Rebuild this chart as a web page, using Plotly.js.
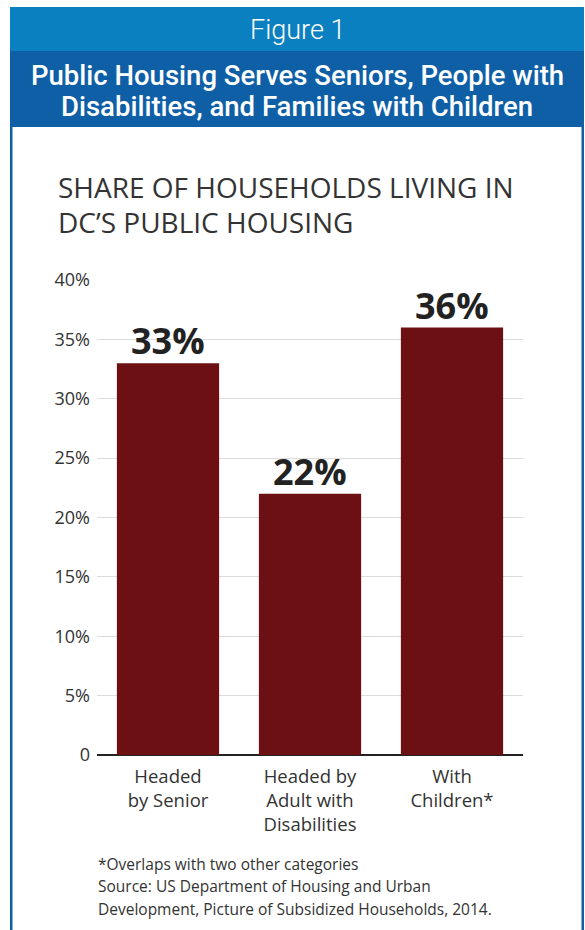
<!DOCTYPE html>
<html>
<head>
<meta charset="utf-8">
<script src="https://cdn.plot.ly/plotly-3.0.1.min.js"></script>
<style>html,body{margin:0;padding:0;background:#fff;}#chart{width:585px;height:930px;}</style>
</head>
<body>
<div id="chart"></div>
<script>
var categories = ['Headed<br>by Senior', 'Headed by<br>Adult with<br>Disabilities', 'With<br>Children*'];
var shares = [33, 22, 36];
var tickValues = [0, 5, 10, 15, 20, 25, 30, 35, 40];
var tickLabels = ['0', '5%', '10%', '15%', '20%', '25%', '30%', '35%', '40%'];
var headerLines = ['Public Housing Serves Seniors, People with', 'Disabilities, and Families with Children'];
var titleLines = ['SHARE OF HOUSEHOLDS LIVING IN', 'DC\u2019S PUBLIC HOUSING'];
var noteLines = ['*Overlaps with two other categories', 'Source: US Department of Housing and Urban', 'Development, Picture of Subsidized Households, 2014.'];

var W = 585, H = 930;
var L = 97, R = 62, T = 280, B = 175;
var pw = W - L - R, ph = H - T - B;
function px(x) { return (x - L) / pw; }
function py(y) { return (H - B - y) / ph; }

var font = '"Open Sans", "Noto Sans", sans-serif';
var headFont = 'Roboto, "Liberation Sans", sans-serif';

var trace = {
  type: 'bar',
  x: categories,
  y: shares,
  marker: {color: '#6c1013'},
  hoverinfo: 'none'
};

function rect(x0, y0, x1, y1, color) {
  return {type: 'rect', xref: 'paper', yref: 'paper', x0: px(x0), x1: px(x1), y0: py(y1), y1: py(y0),
          fillcolor: color, line: {width: 0}, layer: 'below'};
}
function textAt(x, y, text, anchor, f) {
  return {xref: 'paper', yref: 'paper', x: px(x), y: py(y), xanchor: anchor, yanchor: 'middle',
          text: text, showarrow: false, font: f};
}

var annotations = [
  textAt(297, 30, 'Figure 1', 'center', {family: headFont, size: 27, color: '#fff', weight: 300})
];
var headerY = [75, 106];
headerLines.forEach(function(t, i) {
  annotations.push(textAt(297, headerY[i], t, 'center', {family: headFont, size: 27.5, color: '#fff', weight: 500}));
});
var titleY = [187, 222];
titleLines.forEach(function(t, i) {
  annotations.push(textAt(56, titleY[i], t, 'left', {family: font, size: 28, color: '#333', weight: 400}));
});
var noteY = [864, 886, 909];
noteLines.forEach(function(t, i) {
  annotations.push(textAt(96, noteY[i], t, 'left', {family: font, size: 15.5, color: '#333'}));
});
shares.forEach(function(v, i) {
  annotations.push({xref: 'x', yref: 'y', x: categories[i], y: v, yanchor: 'bottom', yshift: -4,
    text: v + '%', showarrow: false, font: {family: font, size: 36, color: '#222', weight: 700}});
});

var layout = {
  width: W, height: H,
  margin: {l: L, r: R, t: T, b: B},
  paper_bgcolor: '#fff', plot_bgcolor: '#fff',
  showlegend: false,
  bargap: 0.28,
  xaxis: {
    tickfont: {family: font, size: 18.5, color: '#333'},
    showgrid: false, showline: false, ticks: '', ticklabelstandoff: 8, fixedrange: true
  },
  yaxis: {
    range: [0, 40], tickvals: tickValues, ticktext: tickLabels,
    tickfont: {family: font, size: 18, color: '#333'},
    gridcolor: '#dcdcdc', gridwidth: 1, zeroline: true, zerolinecolor: '#222', zerolinewidth: 2,
    ticks: '', ticklen: 0, ticklabelstandoff: 6, showline: false, fixedrange: true
  },
  shapes: [
    rect(10, 7, 584, 51, '#0b80c1'),
    rect(10, 51, 582, 127, '#0f5fa7'),
    rect(10, 51, 12.5, 930, '#0f5fa7'),
    rect(581.5, 51, 584, 930, '#0f5fa7')
  ],
  annotations: annotations
};

Plotly.newPlot('chart', [trace], layout, {displayModeBar: false, staticPlot: true});
</script>
</body>
</html>
